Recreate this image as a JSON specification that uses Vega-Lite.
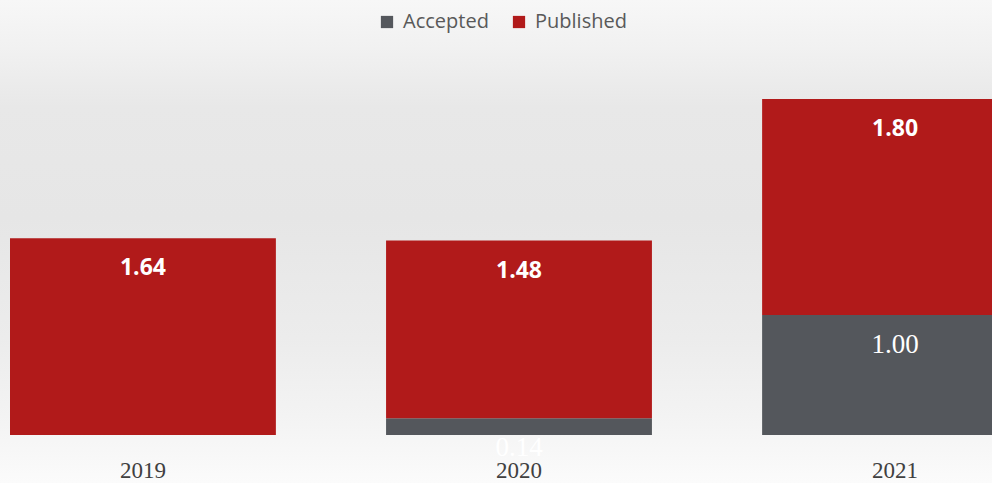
{
  "$schema": "https://vega.github.io/schema/vega-lite/v6.json",
  "width": 992,
  "height": 483,
  "autosize": {"type": "none"},
  "padding": 0,
  "background": "#f8f8f8",
  "config": {"view": {"stroke": null}},
  "data": {
    "values": [
      {"year": "2019", "series": "Published", "value": 1.64},
      {"year": "2020", "series": "Accepted", "value": 0.14},
      {"year": "2020", "series": "Published", "value": 1.48},
      {"year": "2021", "series": "Accepted", "value": 1.0},
      {"year": "2021", "series": "Published", "value": 1.8}
    ]
  },
  "transform": [
    {"stack": "value", "groupby": ["year"], "sort": [{"field": "series", "order": "ascending"}], "as": ["v0", "v1"]}
  ],
  "layer": [
    {
      "data": {"values": [{"bg": 1}]},
      "mark": {
        "type": "rect",
        "color": {
          "gradient": "linear", "x1": 0, "y1": 0, "x2": 0, "y2": 1,
          "stops": [
            {"offset": 0, "color": "#f7f7f7"},
            {"offset": 0.1, "color": "#f1f1f1"},
            {"offset": 0.22, "color": "#e8e8e8"},
            {"offset": 0.45, "color": "#e6e6e6"},
            {"offset": 0.7, "color": "#ececec"},
            {"offset": 0.86, "color": "#f3f3f3"},
            {"offset": 1, "color": "#fbfbfb"}
          ]
        }
      },
      "encoding": {}
    },
    {
      "mark": {"type": "bar", "clip": true},
      "encoding": {
        "x": {
          "field": "year", "type": "nominal",
          "scale": {"range": [0, 1038], "paddingInner": 0.293, "paddingOuter": 0.0266},
          "axis": {
            "title": null, "domain": false, "ticks": false, "labelAngle": 0,
            "offset": -48, "zindex": 1,
            "labelFont": "Liberation Serif", "labelFontSize": 23, "labelColor": "#404040",
            "labelPadding": 24
          }
        },
        "y": {
          "field": "v1", "type": "quantitative",
          "scale": {"domain": [-0.4, 3.625], "nice": false, "zero": false},
          "axis": null
        },
        "y2": {"field": "v0"},
        "color": {
          "field": "series", "type": "nominal",
          "scale": {"domain": ["Accepted", "Published"], "range": ["#54575c", "#b11a1a"]},
          "legend": {
            "title": null, "orient": "none", "direction": "horizontal",
            "legendX": 377, "legendY": 12, "zindex": 1,
            "symbolType": "square", "symbolSize": 150, "symbolStrokeWidth": 0,
            "labelFont": "Open Sans", "labelFontSize": 20, "labelColor": "#595959",
            "columnPadding": 20, "labelOffset": 6
          }
        }
      }
    },
    {
      "transform": [{"filter": "datum.series === 'Published'"}],
      "mark": {"type": "text", "dy": 30, "baseline": "middle", "color": "#ffffff", "font": "Open Sans", "fontWeight": "bold", "fontSize": 23, "clip": true},
      "encoding": {
        "x": {"field": "year", "type": "nominal"},
        "y": {"field": "v1", "type": "quantitative"},
        "text": {"field": "value", "type": "quantitative", "format": ".2f"}
      }
    },
    {
      "transform": [{"filter": "datum.series === 'Accepted'"}],
      "mark": {"type": "text", "dy": 30, "baseline": "middle", "color": "#ffffff", "font": "Liberation Serif", "fontSize": 27},
      "encoding": {
        "x": {"field": "year", "type": "nominal"},
        "y": {"field": "v1", "type": "quantitative"},
        "text": {"field": "value", "type": "quantitative", "format": ".2f"}
      }
    }
  ]
}
